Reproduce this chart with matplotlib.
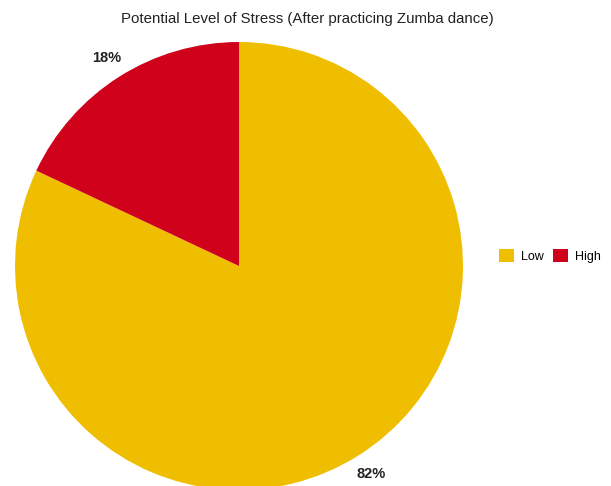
import matplotlib.pyplot as plt
from matplotlib.patches import Patch

plt.rcParams['font.family'] = ['Liberation Sans', 'DejaVu Sans']

labels = ['Low', 'High']
values = [82, 18]
colors = ['#F0BE00', '#D0021B']
title = 'Potential Level of Stress (After practicing Zumba dance)'

fig = plt.figure(figsize=(6.11, 4.86), dpi=100)
ax = fig.add_axes([15/611, -4/486, 448/611, 448/486])
wedges, texts, autotexts = ax.pie(values, colors=colors, startangle=90, counterclock=False,
                                  autopct='%d%%', pctdistance=1.1, radius=1,
                                  textprops={'fontsize': 10.5, 'fontweight': 'bold', 'color': '#222222'})
ax.set_xlim(-1, 1)
ax.set_ylim(-1, 1)
ax.set_aspect('equal')

fig.text(307/611, 1 - 19/486, title, ha='center', va='center', fontsize=10.8, color='#222222')

handles = [Patch(facecolor=c, edgecolor='none') for c in colors]
fig.legend(handles, labels, loc='center', bbox_to_anchor=(550/611, 1 - 256/486), ncol=2,
           frameon=False, fontsize=9, handlelength=1.2, handleheight=1.2,
           handletextpad=0.5, columnspacing=0.8)

fig.savefig('out.png', dpi=100)
